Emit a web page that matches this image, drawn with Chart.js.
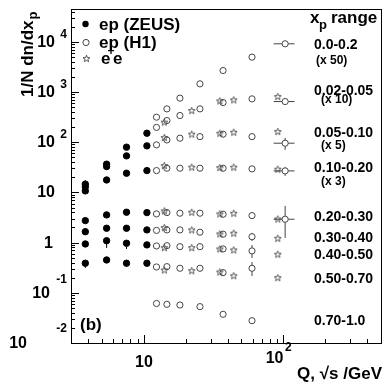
<!DOCTYPE html>
<html><head><meta charset="utf-8">
<script src="https://cdn.jsdelivr.net/npm/chart.js@4/dist/chart.umd.min.js"></script>
<style>html,body{margin:0;padding:0;background:#fff}canvas{display:block}</style>
</head><body>
<canvas id="c" width="386" height="385"></canvas>
<script>
// ---------- data ----------
const zeusQ = [3.8, 5.4, 7.5, 10.5];
const h1Q = [12.3, 14.6, 18.1, 25.2, 36.9, 59.5, 102.8];
const eeSqrtS = [14, 22, 35, 44, 91];

const xpRanges = ['0.0-0.2','0.02-0.05','0.05-0.10','0.10-0.20','0.20-0.30','0.30-0.40','0.40-0.50','0.50-0.70','0.70-1.0'];
const scaleNotes = ['(x 50)','(x 10)','(x 5)','(x 3)'];

// ZEUS (filled)
const zeus_002_005 = [10.7, 36.5, 79.6, 151];
const zeus_005_010 = [12.9, 32.7, 53.4, 84.5];
const zeus_010_020 = [14.6, 17.7, 24.1, 27.2];
const zeus_020_030 = [2.74, 3.56, 4.03, 3.96];
const zeus_030_040 = [1.65, 1.93, 1.93, 1.79];
const zeus_040_050 = [0.94, 1.09, 0.97, 0.90];
const zeus_050_070 = [0.388, 0.451, 0.388, 0.388];

// H1 (open circles)
const h1_000_020 = [315, 461, 754, 1453, 2677, 4950, 9120];
const h1_002_005 = [197, 270, 340, 461, 616, 730, 645];
const h1_005_010 = [88.5, 111, 120, 129, 144.5, 129, 95.5];
const h1_010_020 = [27.2, 30.3, 30.3, 30.3, 30.3, 29.4, 26.8];
const h1_020_030 = [3.73, 3.96, 3.85, 3.85, 3.67, 3.45, 2.92];
const h1_030_040 = [1.75, 1.79, 1.79, 1.61, 1.47, 1.31, null];
const h1_040_050 = [0.857, 0.869, 0.83, 0.83, 0.748, 0.683, null];
const h1_050_070 = [0.327, 0.332, 0.308, 0.308, 0.252, 0.308, null];
const h1_070_100 = [0.0612, 0.059, 0.0571, 0.053, 0.0373, 0.0278, null];

// e+e- (stars)
const ee_002_005 = [251, 427, 666, 698, 812];
const ee_005_010 = [124, 144.5, 151, 158, 163];
const ee_010_020 = [34.2, 31.8, 31.2, 31.8, 29.0];
const ee_020_030 = [4.28, 4.03, 3.73, 3.85, 2.96];
const ee_030_040 = [1.99, 1.79, 1.49, 1.54, 1.22];
const ee_040_050 = [0.794, 0.794, 0.748, 0.715, 0.586];
const ee_050_070 = [0.285, 0.276, 0.26, 0.219, 0.2];

// error intervals [low, high]
const h1QErr = [null, null, null, null, null, null, [85, 120]];
const h1YErr_005_010 = [null, null, null, null, null, null, [70.3, 122]];
const h1YErr_010_020 = [null, null, null, null, null, null, [21.3, 32.2]];
const h1YErr_020_030 = [null, null, null, null, null, null, [1.24, 5.38]];
const h1YErr_030_040 = [null, null, null, null, null, [1.08, 1.56], null];
const h1YErr_040_050 = [null, null, null, null, null, [0.494, 0.898], null];
const h1YErr_050_070 = [null, null, null, null, null, [0.216, 0.412], null];
const zeusYErr_010_020 = [[13.5, 17.5], null, null, null];
const zeusYErr_040_050 = [null, [0.784, 1.15], [0.748, 1.0], null];
const zeusYErr_050_070 = [[0.313, 0.42], null, null, null];

// axis decades
const xDecades = [1, 2];
const yDecades = [-2, -1, 0, 1, 2, 3, 4];

// ---------- build ----------
const starImg = (() => {
  const c = document.createElement('canvas'); c.width = 9; c.height = 9;
  const g = c.getContext('2d');
  g.strokeStyle = '#3a3a3a'; g.lineWidth = 0.85;
  g.beginPath();
  for (let i = 0; i < 10; i++) {
    const r = i % 2 === 0 ? 3.6 : 1.5;
    const a = -Math.PI / 2 + i * Math.PI / 5;
    const px = 4.5 + r * Math.cos(a), py = 4.8 + r * Math.sin(a);
    if (i) g.lineTo(px, py); else g.moveTo(px, py);
  }
  g.closePath(); g.stroke();
  return c;
})();

function pts(xs, ys) { return xs.map((x, i) => ({x, y: ys[i]})).filter(p => p.y != null); }

const zeusSet = (ys, yErr) => ({ data: pts(zeusQ, ys), pointStyle: 'circle', pointRadius: 3.2,
  backgroundColor: '#000', borderColor: '#000', borderWidth: 1, yErr, xs: zeusQ, ys });
const h1Set = (ys, yErr, xErr) => ({ data: pts(h1Q, ys), pointStyle: 'circle', pointRadius: 3.1,
  backgroundColor: 'rgba(0,0,0,0)', borderColor: '#444', borderWidth: 1, yErr, xErr, xs: h1Q, ys });
const eeSet = (ys) => ({ data: pts(eeSqrtS, ys), pointStyle: starImg, pointRadius: 4,
  backgroundColor: 'rgba(0,0,0,0)', borderColor: '#444', xs: eeSqrtS, ys });

const datasets = [
  zeusSet(zeus_002_005), zeusSet(zeus_005_010), zeusSet(zeus_010_020, zeusYErr_010_020),
  zeusSet(zeus_020_030), zeusSet(zeus_030_040), zeusSet(zeus_040_050, zeusYErr_040_050),
  zeusSet(zeus_050_070, zeusYErr_050_070),
  h1Set(h1_000_020, null, h1QErr), h1Set(h1_002_005, null, h1QErr),
  h1Set(h1_005_010, h1YErr_005_010, h1QErr), h1Set(h1_010_020, h1YErr_010_020, h1QErr),
  h1Set(h1_020_030, h1YErr_020_030, h1QErr), h1Set(h1_030_040, h1YErr_030_040),
  h1Set(h1_040_050, h1YErr_040_050), h1Set(h1_050_070, h1YErr_050_070), h1Set(h1_070_100),
  eeSet(ee_002_005), eeSet(ee_005_010), eeSet(ee_010_020), eeSet(ee_020_030),
  eeSet(ee_030_040), eeSet(ee_040_050), eeSet(ee_050_070)
];

const FONT = '"Liberation Sans", Arial, sans-serif';
function txt(ctx, s, x, y, size, align, base) {
  ctx.font = 'bold ' + size + 'px ' + FONT;
  ctx.textAlign = align || 'left';
  ctx.textBaseline = base || 'middle';
  ctx.fillText(s, x, y);
}

const errPlugin = {
  id: 'errbars',
  beforeDatasetsDraw(chart) {
    const ctx = chart.ctx, xs = chart.scales.x, ys = chart.scales.y;
    ctx.save();
    chart.data.datasets.forEach(ds => {
      ctx.strokeStyle = ds.borderColor; ctx.lineWidth = 1;
      ds.xs.forEach((q, i) => {
        const v = ds.ys[i]; if (v == null) return;
        const px = xs.getPixelForValue(q), py = ys.getPixelForValue(v);
        const r = ds.pointRadius;
        ctx.beginPath();
        if (ds.yErr && ds.yErr[i]) {
          const lo = ys.getPixelForValue(ds.yErr[i][0]), hi = ys.getPixelForValue(ds.yErr[i][1]);
          if (lo > py + r) { ctx.moveTo(px, py + r); ctx.lineTo(px, lo); }
          if (hi < py - r) { ctx.moveTo(px, py - r); ctx.lineTo(px, hi); }
        }
        if (ds.xErr && ds.xErr[i]) {
          const lo = xs.getPixelForValue(ds.xErr[i][0]), hi = xs.getPixelForValue(ds.xErr[i][1]);
          ctx.moveTo(lo, py); ctx.lineTo(px - r, py);
          ctx.moveTo(px + r, py); ctx.lineTo(hi, py);
        }
        ctx.stroke();
      });
    });
    ctx.restore();
  }
};

const framePlugin = {
  id: 'frame',
  afterDraw(chart) {
    const ctx = chart.ctx, a = chart.chartArea, xs = chart.scales.x, ys = chart.scales.y;
    ctx.save();
    ctx.strokeStyle = '#000'; ctx.lineWidth = 1;
    ctx.strokeRect(Math.round(a.left) + 0.5, Math.round(a.top) + 0.5,
      Math.round(a.right - a.left), Math.round(a.bottom - a.top));
    ctx.beginPath();
    yDecades.forEach(d => {
      for (let m = 1; m <= 9; m++) {
        const v = m * Math.pow(10, d); if (v < ys.min || v > ys.max) continue;
        const y = Math.round(ys.getPixelForValue(v)) + 0.5, L = m === 1 ? 8 : 4;
        ctx.moveTo(a.left, y); ctx.lineTo(a.left + L, y);
      }
    });
    for (let d = 0; d <= 2; d++) {
      for (let m = 1; m <= 9; m++) {
        const v = m * Math.pow(10, d); if (v < xs.min || v > xs.max) continue;
        const x = Math.round(xs.getPixelForValue(v)) + 0.5, L = m === 1 ? 8 : 4;
        ctx.moveTo(x, a.bottom); ctx.lineTo(x, a.bottom - L);
      }
    }
    ctx.stroke();

    ctx.fillStyle = '#000';
    // y tick labels
    yDecades.forEach(d => {
      const y = ys.getPixelForValue(Math.pow(10, d));
      if (d === 0) { txt(ctx, '1', 53, y + 0.5, 16, 'right'); return; }
      if (d === 1) { txt(ctx, '10', 55, y + 0.5, 16, 'right'); return; }
      let baseX = 55, expDy = -7.5;
      if (d === -1) { baseX = 50; expDy = -13.5; }
      if (d === -2) { baseX = 27; expDy = -14.5; }
      txt(ctx, '10', baseX, y + 0.5, 16, 'right');
      txt(ctx, String(d), 67, y + expDy, 12, 'right');
    });
    // x tick labels
    xDecades.forEach(d => {
      const x = xs.getPixelForValue(Math.pow(10, d));
      if (d === 1) txt(ctx, '10', x, 362.5, 16, 'center');
      else { txt(ctx, '10', x, 359, 16, 'right'); txt(ctx, String(d), x + 1.5, 347.5, 12, 'left'); }
    });
    // x title
    txt(ctx, 'Q, \u221As /GeV', 382, 374, 17, 'right');
    // y title
    ctx.save();
    ctx.translate(33, 97); ctx.rotate(-Math.PI / 2);
    ctx.font = 'bold 17px ' + FONT; ctx.textAlign = 'left'; ctx.textBaseline = 'alphabetic';
    ctx.fillText('1/N dn/dx', 0, 0);
    const w = ctx.measureText('1/N dn/dx').width;
    ctx.font = 'bold 13px ' + FONT;
    ctx.fillText('p', w + 1, 4);
    ctx.restore();
    // (b)
    txt(ctx, '(b)', 80, 325, 17, 'left');
    // legend
    ctx.beginPath(); ctx.arc(85.5, 24, 3.2, 0, 2 * Math.PI); ctx.fill();
    ctx.strokeStyle = '#444'; ctx.beginPath(); ctx.arc(86, 42.5, 3.1, 0, 2 * Math.PI); ctx.stroke();
    ctx.drawImage(starImg, 82, 54);
    txt(ctx, 'ep (ZEUS)', 99, 25, 17);
    txt(ctx, 'ep (H1)', 99, 43.5, 17);
    txt(ctx, 'e', 101, 59.5, 17);
    txt(ctx, '+', 107.5, 52, 12);
    txt(ctx, 'e', 113, 59.5, 17);
    // header
    txt(ctx, 'x', 310, 18, 17);
    txt(ctx, 'p', 319, 25, 13);
    txt(ctx, 'range', 331, 18, 17);
    // range labels
    const rangeY = [45, 91, 133.5, 168.5, 217, 238.5, 255, 279.5, 321.5];
    const noteY = [61, 100, 146, 182];
    xpRanges.forEach((s, i) => txt(ctx, s, 314, rangeY[i], 14));
    scaleNotes.forEach((s, i) => txt(ctx, s, i === 0 ? 316 : 321, noteY[i], 12));
    ctx.restore();
  }
};

new Chart(document.getElementById('c'), {
  type: 'scatter',
  data: { datasets },
  options: {
    responsive: false,
    animation: false,
    layout: { padding: { left: 71, top: 9, right: 3, bottom: 42 } },
    plugins: { legend: { display: false }, tooltip: { enabled: false } },
    scales: {
      x: { type: 'logarithmic', min: 3, max: 500, display: false },
      y: { type: 'logarithmic', min: 0.01, max: 45000, display: false }
    }
  },
  plugins: [errPlugin, framePlugin]
});
</script>
</body></html>
